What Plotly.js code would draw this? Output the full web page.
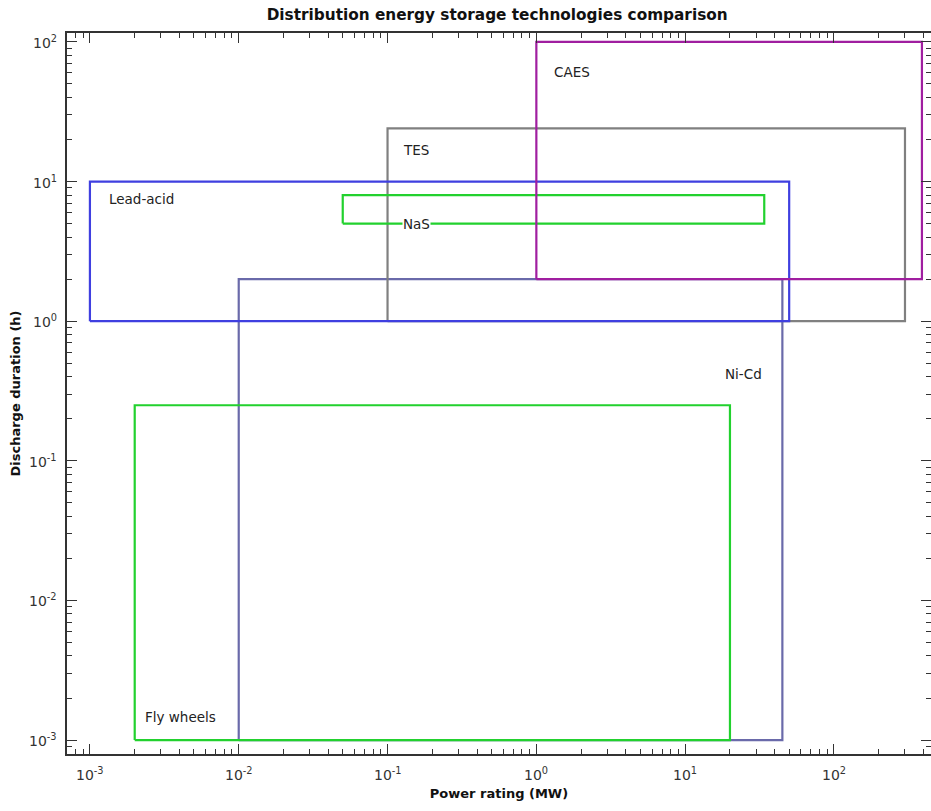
<!DOCTYPE html>
<html>
<head>
<meta charset="utf-8">
<script src="https://cdn.plot.ly/plotly-3.0.1.min.js"></script>
<style>html,body{margin:0;padding:0;background:#fff}#chart{width:931px;height:811px}</style>
</head>
<body>
<div id="chart"></div>
<script>
// Technologies: power rating range (MW) and discharge duration range (h)
const technologies = ["Lead-acid", "NaS", "TES", "CAES", "Ni-Cd", "Fly wheels"];
const powerMin = [0.001, 0.05, 0.1, 1, 0.01, 0.002];
const powerMax = [50, 34, 300, 390, 45, 20];
const durationMin = [1, 5, 1, 2, 0.001, 0.001];
const durationMax = [10, 8, 24, 100, 2, 0.25];
const colors = ["#3f3fe0", "#22d12e", "#808080", "#a01ea0", "#6a6aaa", "#22d12e"];

// Label positions (data coordinates, left edge of text)
const labelX = [0.00132, 0.126, 0.126, 1.3, 18.3, 0.00232];
const labelY = [7.5, 4.95, 16.7, 61, 0.417, 0.00146];

const tickVals = [0.001, 0.01, 0.1, 1, 10, 100];
const xTickText = ["10<sup>-3</sup>", "10<sup>-2</sup>", "10<sup>-1</sup>", "10<sup>0</sup>", "10<sup>1</sup>", "10<sup>2</sup>"];
const yTickText = ["10<sup>-3</sup>", "10<sup>-2</sup>", "10<sup>-1</sup>", "10<sup>0</sup>", "10<sup>1</sup>", "10<sup>2</sup>"];

const order = [4, 2, 0, 1, 5, 3];
const traces = order.map(i => ({
  type: "scatter",
  mode: "lines",
  name: technologies[i],
  x: [powerMin[i], powerMax[i], powerMax[i], powerMin[i], powerMin[i]],
  y: [durationMin[i], durationMin[i], durationMax[i], durationMax[i], durationMin[i]],
  line: {color: colors[i], width: 2.2},
  hoverinfo: "name",
  showlegend: false
}));

const FONT = "DejaVu Sans, sans-serif";
const annotations = technologies.map((t, i) => ({
  x: Math.log10(labelX[i]),
  y: Math.log10(labelY[i]),
  xref: "x", yref: "y",
  text: t,
  showarrow: false,
  xanchor: "left",
  yanchor: "middle",
  font: {family: FONT, size: 13.5, color: "#222"},
  bgcolor: t === "NaS" ? "#ffffff" : "rgba(0,0,0,0)",
  borderpad: 0
}));
// tick labels (drawn as annotations at the axis tick values)
tickVals.forEach((v, i) => {
  annotations.push({
    x: Math.log10(v), y: 0, xref: "x", yref: "paper",
    text: xTickText[i], showarrow: false, xanchor: "center", yanchor: "top", yshift: -9,
    font: {family: FONT, size: 14, color: "#333"}
  });
  annotations.push({
    x: 0, y: Math.log10(v), xref: "paper", yref: "y",
    text: yTickText[i], showarrow: false, xanchor: "right", yanchor: "middle", xshift: -8,
    font: {family: FONT, size: 14, color: "#333"}
  });
});

const axisCommon = {
  type: "log",
  showgrid: false,
  zeroline: false,
  showline: true,
  linecolor: "#333",
  linewidth: 1.6,
  mirror: "allticks",
  ticks: "inside",
  ticklen: 10,
  tickcolor: "#333",
  tickmode: "array",
  tickvals: tickVals,
  showticklabels: false,
  minor: {ticks: "inside", ticklen: 5, tickcolor: "#333", tickwidth: 1.2, dtick: "D1"}
};

const layout = {
  width: 931, height: 811,
  margin: {l: 67, r: 0, t: 33, b: 57},
  paper_bgcolor: "#fff",
  plot_bgcolor: "#fff",
  title: {
    text: "<b>Distribution energy storage technologies comparison</b>",
    font: {family: FONT, size: 15.3, color: "#111"},
    x: 0.534, xanchor: "center", y: 0.988, yanchor: "top"
  },
  xaxis: Object.assign({}, axisCommon, {
    range: [-3.154, 2.652],
    title: {text: "<b>Power rating (MW)</b>", font: {family: FONT, size: 13, color: "#111"}, standoff: 34}
  }),
  yaxis: Object.assign({}, axisCommon, {
    range: [-3.10, 2.064],
    title: {text: "<b>Discharge duration (h)</b>", font: {family: FONT, size: 13, color: "#111"}, standoff: 42}
  }),
  annotations: annotations
};

Plotly.newPlot("chart", traces, layout, {displayModeBar: false, responsive: false});
</script>
</body>
</html>
